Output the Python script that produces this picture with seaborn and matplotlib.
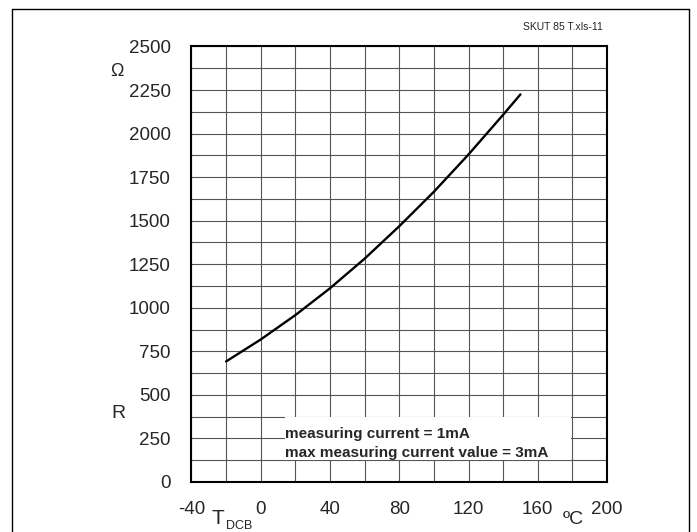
import seaborn as sns
import pandas as pd
import matplotlib
matplotlib.use("Agg")
import matplotlib.pyplot as plt
from matplotlib.patches import Rectangle
from matplotlib.lines import Line2D

####Data
temp_c = [-20, 0, 20, 40, 60, 80, 100, 120, 140, 150]
res_ohm = [692, 818, 958, 1112, 1282, 1468, 1666, 1880, 2108, 2225]
x_ticks = [-40, 0, 40, 80, 120, 160, 200]
y_ticks = [0, 250, 500, 750, 1000, 1250, 1500, 1750, 2000, 2250, 2500]
note_lines = ["measuring current = 1mA", "max measuring current value = 3mA"]

df = pd.DataFrame({"T": temp_c, "R": res_ohm})

sns.set_style("white")
plt.rcParams['font.family'] = ['Liberation Sans', 'DejaVu Sans']

fig = plt.figure(figsize=(6.97, 5.32), dpi=100)
ax = fig.add_axes([0.2747, 0.0940, 0.5962, 0.8186])

####Grid every 20 degC / 125 ohm
for gx in range(-40, 201, 20):
    ax.axvline(gx, color="#555555", lw=0.8, zorder=1)
for gy in range(0, 2501, 125):
    ax.axhline(gy, color="#555555", lw=0.8, zorder=1)

####White box behind the note
ax.add_patch(Rectangle((14, 128), 165, 244, facecolor="white", edgecolor="none", zorder=2))
ax.text(14, 250, note_lines[0], fontsize=11, fontweight="bold", zorder=3, va="baseline")
ax.text(14, 143, note_lines[1], fontsize=11, fontweight="bold", zorder=3, va="baseline")

sns.lineplot(data=df, x="T", y="R", color="black", lw=1.7, ax=ax, zorder=4)

ax.set_xlim(-40, 200)
ax.set_ylim(0, 2500)
ax.set_xticks(x_ticks)
ax.set_yticks(y_ticks)
ax.set_xticklabels([str(v) for v in x_ticks], fontsize=13.5)
ax.set_yticklabels([str(v) for v in y_ticks], fontsize=13.5)
ax.tick_params(axis="y", length=0, pad=15)
ax.tick_params(axis="x", length=0, pad=14)
ax.set_xlabel("")
ax.set_ylabel("")
for s in ax.spines.values():
    s.set_color("black")
    s.set_linewidth(1.5)

####Axis unit labels
fig.text(117 / 697, 1 - 72 / 532, "Ω", fontsize=13, ha="center", va="center")
fig.text(118 / 697, 1 - 414 / 532, "R", fontsize=14, ha="center", va="center")
fig.text(212 / 697, 1 - 519 / 532, "T", fontsize=15, ha="left", va="center")
fig.text(226 / 697, 1 - 526 / 532, "DCB", fontsize=9, ha="left", va="center")
fig.text(573 / 697, 1 - 519 / 532, "ºC", fontsize=14, ha="center", va="center")
fig.text(603 / 697, 1 - 27 / 532, "SKUT 85 T.xls-11", fontsize=7.5, ha="right", va="center")

####Outer frame
fy = 1 - 9 / 532
fl = 12 / 697
fr = 689 / 697
fig.add_artist(Line2D([fl, fr], [fy, fy], color="black", lw=1, transform=fig.transFigure))
fig.add_artist(Line2D([fl, fl], [0, fy], color="black", lw=1, transform=fig.transFigure))
fig.add_artist(Line2D([fr, fr], [0, fy], color="black", lw=1, transform=fig.transFigure))

plt.savefig("out.png", dpi=100)
